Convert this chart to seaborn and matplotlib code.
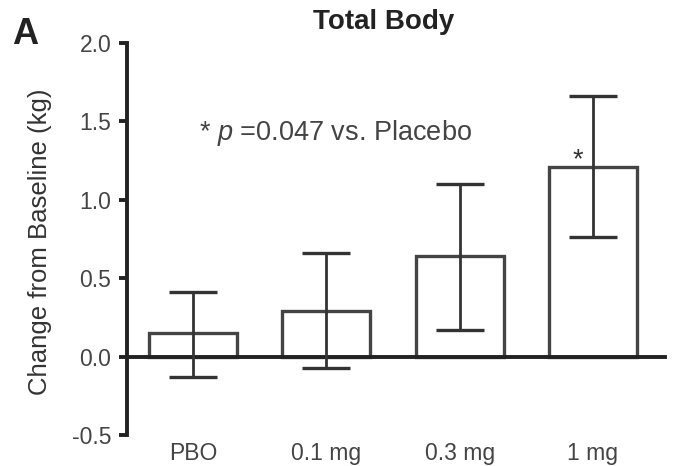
import numpy as np
import pandas as pd
import matplotlib
matplotlib.use("Agg")
import matplotlib.pyplot as plt
import seaborn as sns

# Data
groups = ["PBO", "0.1 mg", "0.3 mg", "1 mg"]
change = [0.15, 0.29, 0.64, 1.21]
err_low = [-0.13, -0.07, 0.17, 0.76]
err_high = [0.41, 0.66, 1.10, 1.66]

df = pd.DataFrame({"group": groups, "change": change})

sns.set_theme(style="white")
plt.rcParams["font.family"] = ["Liberation Sans", "DejaVu Sans"]
plt.rcParams["mathtext.fontset"] = "custom"
plt.rcParams["mathtext.it"] = "Liberation Sans:italic"
plt.rcParams["mathtext.rm"] = "Liberation Sans"

fig = plt.figure(figsize=(6.81, 4.66), dpi=100)
ax = fig.add_axes([0.186, 0.0665, 0.79, 0.8415])

sns.barplot(
    data=df,
    x="group",
    y="change",
    color="white",
    edgecolor="#444444",
    linewidth=2.4,
    width=0.66,
    errorbar=None,
    ax=ax,
)

x = np.arange(len(groups))
yerr = [np.array(change) - np.array(err_low), np.array(err_high) - np.array(change)]
ax.errorbar(
    x, change, yerr=yerr, fmt="none", ecolor="#333333",
    elinewidth=2, capsize=17, capthick=2.4, zorder=5,
)

ax.set_ylim(-0.5, 2.0)
ax.set_xlim(-0.5, 3.54)
ax.set_yticks([-0.5, 0.0, 0.5, 1.0, 1.5, 2.0])
ax.set_yticklabels(["-0.5", "0.0", "0.5", "1.0", "1.5", "2.0"])

for s in ["top", "right"]:
    ax.spines[s].set_visible(False)
ax.spines["left"].set_color("#222222")
ax.spines["left"].set_linewidth(2.8)
ax.spines["bottom"].set_position(("data", 0))
ax.spines["bottom"].set_color("#222222")
ax.spines["bottom"].set_linewidth(2.8)

ax.tick_params(axis="y", direction="out", length=6, width=2.8, color="#222222",
               labelsize=16.5, labelcolor="#444444", left=True, pad=5)
ax.tick_params(axis="x", length=0, labelsize=16.5, labelcolor="#444444")
ax.set_xticks(x)
ax.set_xticklabels(groups)
# put the category labels under the bottom of the plot, not at y=0
for lbl in ax.get_xticklabels():
    lbl.set_transform(ax.get_xaxis_transform())
    lbl.set_position((lbl.get_position()[0], -0.018))
    lbl.set_verticalalignment("top")

ax.set_xlabel("")
ax.set_ylabel("")
fig.text(0.059, 0.481, "Change from Baseline (kg)", fontsize=18.5, color="#333333",
         rotation=90, ha="center", va="center")

fig.text(0.564, 0.952, "Total Body", fontsize=20, fontweight="bold",
         color="#222222", ha="center", va="center")
fig.text(0.018, 0.905, "A", fontsize=26, fontweight="bold", color="#222222")

ax.text(0.045, 1.38, "* $\\it{p}$ =0.047 vs. Placebo", fontsize=19.5, color="#444444")
ax.text(2.887, 1.205, "*", fontsize=19.5, color="#333333", ha="center")

fig.savefig("out.png", dpi=100)
